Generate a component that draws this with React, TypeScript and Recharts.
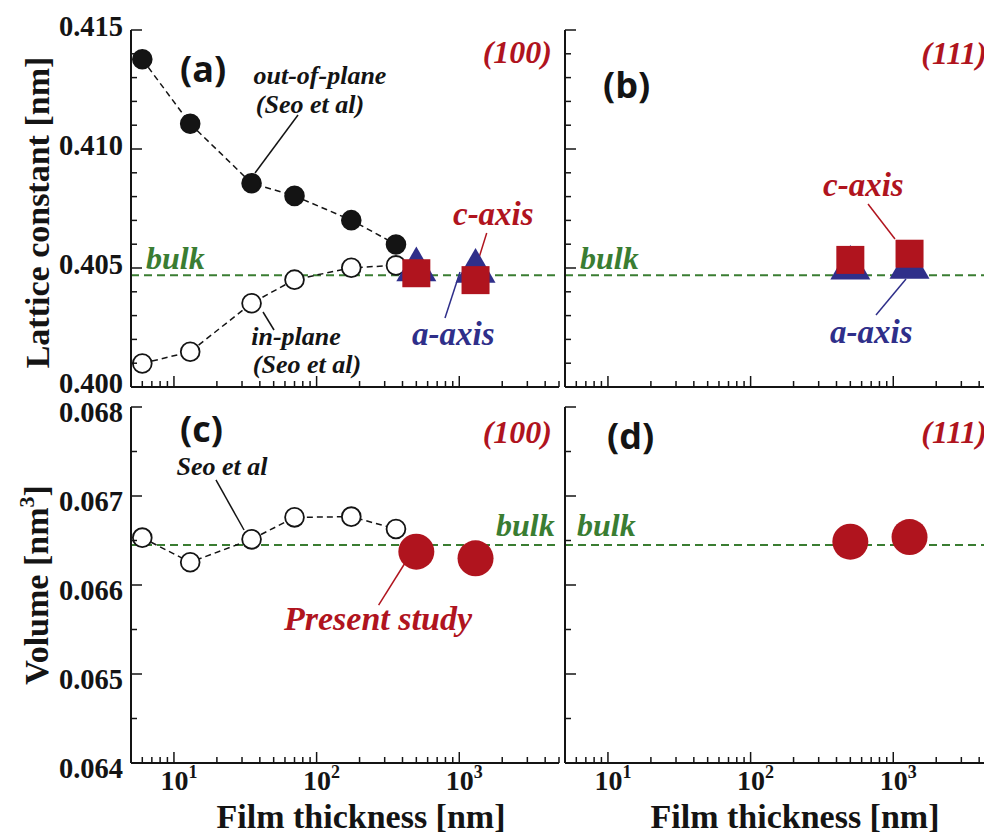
import React from 'react';
import { ScatterChart, Scatter, XAxis, YAxis, ReferenceLine, ReferenceDot } from 'recharts';

const SERIF = '"Liberation Serif", "Times New Roman", serif';
const SANS = '"Open Sans", "Noto Sans", sans-serif';
const INK = '#141414';
const RED = '#b0141e';
const BLUE = '#2f2f8a';
const GREEN = '#3a7d32';

// Film thickness [nm]
const seoThickness = [6, 13, 35, 70, 175, 360];
const studyThickness = [500, 1300];

// Lattice constant [nm], (100) films
const seoOutOfPlane = [0.41377, 0.41106, 0.40856, 0.40803, 0.40701, 0.40599];
const seoInPlane = [0.40099, 0.40148, 0.40352, 0.40451, 0.40501, 0.40511];
const aAxis100 = [0.40493, 0.40487];
const cAxis100 = [0.40478, 0.40449];

// Lattice constant [nm], (111) films
const aAxis111 = [0.405, 0.40503];
const cAxis111 = [0.40534, 0.4056];

// Unit cell volume [nm^3]
const seoVolume = [0.066532, 0.066255, 0.066513, 0.06676, 0.066768, 0.066629];
const volume100 = [0.066375, 0.0663];
const volume111 = [0.066487, 0.066539];

const bulkLattice = 0.4047;
const bulkVolume = 0.06645;

const xTicks = [5, 6, 7, 8, 9, 10, 20, 30, 40, 50, 60, 70, 80, 90, 100, 200, 300, 400, 500, 600, 700, 800, 900, 1000, 2000, 3000, 4000, 5000];
const xDecades = [10, 100, 1000];
const latticeTicks = [0.4, 0.401, 0.402, 0.403, 0.404, 0.405, 0.406, 0.407, 0.408, 0.409, 0.41, 0.411, 0.412, 0.413, 0.414, 0.415];
const latticeLabels = [0.4, 0.405, 0.41, 0.415];
const volumeTicks = [0.064, 0.0645, 0.065, 0.0655, 0.066, 0.0665, 0.067, 0.0675, 0.068];
const volumeLabels = [0.064, 0.065, 0.066, 0.067, 0.068];

// annotations, placed in data coordinates
type Note = { x: number; y: number; text: string; kind: string };
type Leader = { from: [number, number]; to: [number, number]; color: string };

const notesA: Note[] = [
  { x: 11.03, y: 0.412815, text: '(a)', kind: 'panel' },
  { x: 4466, y: 0.413613, text: '(100)', kind: 'plane' },
  { x: 105.6, y: 0.41273, text: 'out-of-plane', kind: 'seo' },
  { x: 89.9, y: 0.41151, text: '(Seo et al)', kind: 'seo' },
  { x: 71.7, y: 0.401765, text: 'in-plane', kind: 'seo' },
  { x: 85.6, y: 0.400588, text: '(Seo et al)', kind: 'seo' },
  { x: 6.37, y: 0.404958, text: 'bulk', kind: 'bulk' },
  { x: 903.6, y: 0.406807, text: 'c-axis', kind: 'caxis' },
  { x: 466.3, y: 0.401765, text: 'a-axis', kind: 'aaxis' },
];
const leadersA: Leader[] = [
  { from: [74.05, 0.41143], to: [37.0, 0.40899], color: INK },
  { from: [42.1, 0.403151], to: [50.3, 0.402395], color: INK },
  { from: [1557, 0.406471], to: [1325, 0.405126], color: RED },
  { from: [794.1, 0.402899], to: [1011.8, 0.404832], color: BLUE },
];

const notesB: Note[] = [
  { x: 9.23, y: 0.412143, text: '(b)', kind: 'panel' },
  { x: 4540, y: 0.413571, text: '(111)', kind: 'plane' },
  { x: 6.37, y: 0.404958, text: 'bulk', kind: 'bulk' },
  { x: 321.7, y: 0.408025, text: 'c-axis', kind: 'caxis' },
  { x: 360.1, y: 0.401849, text: 'a-axis', kind: 'aaxis' },
];
const leadersB: Leader[] = [
  { from: [665, 0.407689], to: [1028, 0.406218], color: RED },
  { from: [756.6, 0.403025], to: [1228, 0.404538], color: BLUE },
];

const notesC: Note[] = [
  { x: 11.03, y: 0.067607, text: '(c)', kind: 'panel' },
  { x: 4466, y: 0.067596, text: '(100)', kind: 'plane' },
  { x: 21.7, y: 0.067236, text: 'Seo et al', kind: 'seo' },
  { x: 1808, y: 0.066551, text: 'bulk', kind: 'bulk' },
  { x: 269.4, y: 0.065494, text: 'Present study', kind: 'present' },
];
const leadersC: Leader[] = [
  { from: [19.7, 0.06718], to: [31.0, 0.066618], color: INK },
  { from: [272, 0.065775], to: [416.5, 0.066247], color: RED },
];

const notesD: Note[] = [
  { x: 9.85, y: 0.067528, text: '(d)', kind: 'panel' },
  { x: 4540, y: 0.067596, text: '(111)', kind: 'plane' },
  { x: 6.07, y: 0.066551, text: 'bulk', kind: 'bulk' },
];

const noteStyle: Record<string, { fill: string; size: number; anchor: 'start' | 'middle' | 'end'; sans?: boolean }> = {
  panel: { fill: INK, size: 36, anchor: 'start', sans: true },
  plane: { fill: RED, size: 32, anchor: 'end' },
  seo: { fill: INK, size: 26, anchor: 'middle' },
  bulk: { fill: GREEN, size: 32, anchor: 'start' },
  caxis: { fill: RED, size: 33, anchor: 'start' },
  aaxis: { fill: BLUE, size: 33, anchor: 'start' },
  present: { fill: RED, size: 34, anchor: 'middle' },
};

const pts = (xs: number[], ys: number[]) => xs.map((x, i) => ({ x, y: ys[i] }));
const near = (list: number[], v: number) => list.some((t) => Math.abs(t - v) < 1e-9);

const dashed = { stroke: INK, strokeWidth: 1.5, strokeDasharray: '6 4' };

const dot = (r: number, fill: string) => (p: any) => (
  <circle cx={p.cx} cy={p.cy} r={r} fill={fill} stroke={fill === RED ? 'none' : INK} strokeWidth={1.8} />
);
const square = (s: number) => (p: any) => (
  <rect x={p.cx - s / 2} y={p.cy - s / 2} width={s} height={s} fill={RED} />
);
const triangle = (w: number) => (p: any) => {
  const h = (w * Math.sqrt(3)) / 2;
  return (
    <polygon
      points={`${p.cx},${p.cy - (2 * h) / 3} ${p.cx - w / 2},${p.cy + h / 3} ${p.cx + w / 2},${p.cy + h / 3}`}
      fill={BLUE}
    />
  );
};

// inward tick marks, labels only on the outer edges
const xTick = (edge: 'top' | 'bottom', labelled: boolean) => (props: any) => {
  const { x, y, payload } = props;
  const major = near(xDecades, payload.value);
  const dir = edge === 'bottom' ? -1 : 1;
  return (
    <g>
      <line x1={x} y1={y} x2={x} y2={y + dir * (major ? 11 : 6)} stroke={INK} strokeWidth={1.5} />
      {labelled && major && (
        <text x={x + 5} y={y + 27} textAnchor="middle" fontFamily={SERIF} fontWeight="bold" fontSize={28} fill={INK}>
          10
          <tspan dy={-12} fontSize={18}>
            {Math.round(Math.log10(payload.value))}
          </tspan>
        </text>
      )}
    </g>
  );
};

const yTick = (edge: 'left' | 'right', labels: number[] | null, digits: number, dy: number) => (props: any) => {
  const { x, y, payload } = props;
  const major = near(labels ?? (digits === 3 ? latticeLabels : volumeLabels), payload.value);
  const dir = edge === 'left' ? 1 : -1;
  return (
    <g>
      <line x1={x} y1={y} x2={x + dir * (major ? 11 : 6)} y2={y} stroke={INK} strokeWidth={1.5} />
      {labels && major && (
        <text x={x - 8} y={y + dy} textAnchor="end" fontFamily={SERIF} fontWeight="bold" fontSize={28.5} fill={INK}>
          {payload.value.toFixed(3)}
        </text>
      )}
    </g>
  );
};

const xTitle = (props: any) => {
  const vb = props.viewBox;
  return (
    <text x={vb.x + vb.width / 2 + 16} y={vb.y + 65} textAnchor="middle" fontFamily={SERIF} fontWeight="bold" fontSize={34} fill={INK}>
      Film thickness [nm]
    </text>
  );
};

const latticeTitle = (props: any) => {
  const vb = props.viewBox;
  const cy = vb.y + vb.height / 2 + 4;
  return (
    <text x={49} y={cy} transform={`rotate(-90, 49, ${cy})`} textAnchor="middle" fontFamily={SERIF} fontWeight="bold" fontSize={34} fill={INK}>
      Lattice constant [nm]
    </text>
  );
};

const volumeTitle = (props: any) => {
  const vb = props.viewBox;
  const cy = vb.y + vb.height / 2;
  return (
    <text x={48} y={cy} transform={`rotate(-90, 48, ${cy})`} textAnchor="middle" fontFamily={SERIF} fontWeight="bold" fontSize={34} fill={INK}>
      Volume [nm
      <tspan dy={-14} fontSize={22}>3</tspan>
      <tspan dy={14}>]</tspan>
    </text>
  );
};

type FrameOpts = {
  yDomain: [number, number];
  yTicks: number[];
  yLabels: number[] | null;
  digits: number;
  labelDy: number;
  xLabelled: boolean;
  leftWidth: number;
  bottomHeight: number;
  yTitle?: (p: any) => React.ReactElement;
};

function frame(o: FrameOpts) {
  const shared = {
    tickLine: false,
    tickSize: 0,
    tickMargin: 0,
    interval: 0 as const,
    allowDataOverflow: true,
    axisLine: { stroke: INK, strokeWidth: 2 },
  };
  const xShared = { type: 'number' as const, scale: 'log' as const, domain: [5, 5000], ticks: xTicks, dataKey: 'x' };
  const yShared = { type: 'number' as const, domain: o.yDomain, ticks: o.yTicks, dataKey: 'y' };
  return [
    <XAxis key="xb" xAxisId="b" {...xShared} {...shared} height={o.bottomHeight} tick={xTick('bottom', o.xLabelled)}
      label={o.xLabelled ? { content: xTitle } : undefined} />,
    <XAxis key="xt" xAxisId="t" orientation="top" {...xShared} {...shared} height={0} tick={xTick('top', false)} />,
    <YAxis key="yl" yAxisId="l" {...yShared} {...shared} width={o.leftWidth} tick={yTick('left', o.yLabels, o.digits, o.labelDy)}
      label={o.yTitle ? { content: o.yTitle } : undefined} />,
    <YAxis key="yr" yAxisId="r" orientation="right" {...yShared} {...shared} width={0} tick={yTick('right', null, o.digits, 0)} />,
  ];
}

function annotations(notes: Note[], leaders: Leader[]) {
  return [
    ...leaders.map((l, i) => (
      <ReferenceLine key={`l${i}`} xAxisId="b" yAxisId="l" segment={[{ x: l.from[0], y: l.from[1] }, { x: l.to[0], y: l.to[1] }]}
        stroke={l.color} strokeWidth={1.5} />
    )),
    ...notes.map((n, i) => {
      const st = noteStyle[n.kind];
      return (
        <ReferenceDot key={`n${i}`} xAxisId="b" yAxisId="l" x={n.x} y={n.y} r={0}
          shape={(p: any) => (
            <text x={p.cx} y={p.cy} textAnchor={st.anchor} fill={st.fill} fontSize={st.size}
              fontFamily={st.sans ? SANS : SERIF} fontWeight="bold" fontStyle={st.sans ? 'normal' : 'italic'}>
              {n.text}
            </text>
          )} />
      );
    }),
  ];
}

const bulkLine = (y: number) => (
  <ReferenceLine key="bulk" xAxisId="b" yAxisId="l" y={y} stroke={GREEN} strokeWidth={2} strokeDasharray="8 5" />
);

const seriesIds = { xAxisId: 'b', yAxisId: 'l', isAnimationActive: false };

export default function App() {
  const box = (left: number, top: number): React.CSSProperties => ({ position: 'absolute', left, top });
  return (
    <div style={{ position: 'absolute', left: 0, top: 0, width: 984, height: 835, overflow: 'hidden', background: '#fff' }}>
      <div style={box(0, 0)}>
        <ScatterChart width={565} height={400} margin={{ top: 30, right: 6, bottom: 0, left: 0 }}>
          {frame({ yDomain: [0.4, 0.415], yTicks: latticeTicks, yLabels: latticeLabels, digits: 3, labelDy: 5.5, xLabelled: false, leftWidth: 131, bottomHeight: 13, yTitle: latticeTitle })}
          {bulkLine(bulkLattice)}
          {annotations(notesA, leadersA)}
          <Scatter {...seriesIds} data={pts(seoThickness, seoOutOfPlane)} line={dashed} lineType="joint" shape={dot(9.4, INK)} />
          <Scatter {...seriesIds} data={pts(seoThickness, seoInPlane)} line={dashed} lineType="joint" shape={dot(9.4, '#fff')} />
          <Scatter {...seriesIds} data={pts(studyThickness, aAxis100)} shape={triangle(40)} />
          <Scatter {...seriesIds} data={pts(studyThickness, cAxis100)} shape={square(28)} />
        </ScatterChart>
      </div>
      <div style={box(560, 0)}>
        <ScatterChart width={440} height={400} margin={{ top: 30, right: 7, bottom: 0, left: 0 }}>
          {frame({ yDomain: [0.4, 0.415], yTicks: latticeTicks, yLabels: null, digits: 3, labelDy: 0, xLabelled: false, leftWidth: 5, bottomHeight: 13 })}
          {bulkLine(bulkLattice)}
          {annotations(notesB, leadersB)}
          <Scatter {...seriesIds} data={pts(studyThickness, aAxis111)} shape={triangle(40)} />
          <Scatter {...seriesIds} data={pts(studyThickness, cAxis111)} shape={square(28)} />
        </ScatterChart>
      </div>
      <div style={box(0, 390)}>
        <ScatterChart width={565} height={445} margin={{ top: 17, right: 6, bottom: 0, left: 0 }}>
          {frame({ yDomain: [0.064, 0.068], yTicks: volumeTicks, yLabels: volumeLabels, digits: 4, labelDy: 14.5, xLabelled: true, leftWidth: 131, bottomHeight: 72, yTitle: volumeTitle })}
          {bulkLine(bulkVolume)}
          {annotations(notesC, leadersC)}
          <Scatter {...seriesIds} data={pts(seoThickness, seoVolume)} line={dashed} lineType="joint" shape={dot(9.4, '#fff')} />
          <Scatter {...seriesIds} data={pts(studyThickness, volume100)} shape={dot(18, RED)} />
        </ScatterChart>
      </div>
      <div style={box(560, 390)}>
        <ScatterChart width={440} height={445} margin={{ top: 17, right: 7, bottom: 0, left: 0 }}>
          {frame({ yDomain: [0.064, 0.068], yTicks: volumeTicks, yLabels: null, digits: 4, labelDy: 0, xLabelled: true, leftWidth: 5, bottomHeight: 72 })}
          {bulkLine(bulkVolume)}
          {annotations(notesD, [])}
          <Scatter {...seriesIds} data={pts(studyThickness, volume111)} shape={dot(18, RED)} />
        </ScatterChart>
      </div>
    </div>
  );
}
